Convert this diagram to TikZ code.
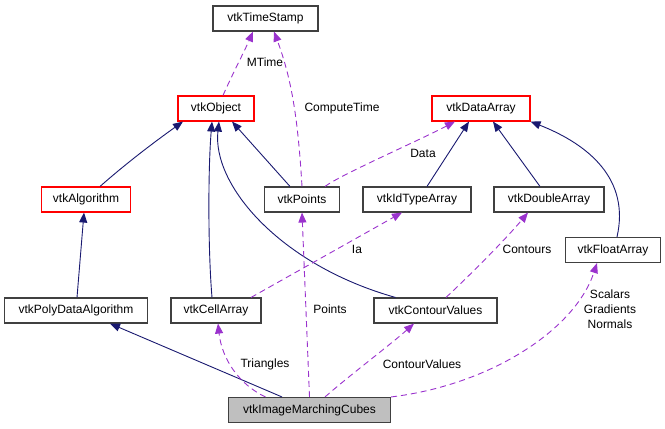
\documentclass[tikz,border=0pt]{standalone}
\usepackage{fontspec}
\setmainfont{Liberation Sans}
\usetikzlibrary{arrows.meta}
\definecolor{inhcol}{HTML}{191970}
\definecolor{usecol}{HTML}{9A32CD}
\definecolor{boxgray}{HTML}{BFBFBF}
\definecolor{boxline}{HTML}{404040}

\begin{document}
\begin{tikzpicture}[x=1pt, y=-1pt,
    every node/.style={font=\fontsize{12}{15}\selectfont, inner sep=0pt},
    cls/.style={draw=boxline, line width=1.1pt, minimum height=25pt},
    base/.style={draw=red, line width=1.1pt, minimum height=25pt},
    cur/.style={cls, fill=boxgray},
    inh/.style={draw=inhcol, line width=0.9pt, -{Triangle[length=10pt,width=8pt]}},
    use/.style={draw=usecol, line width=0.9pt, dash pattern=on 6pt off 4pt,
                -{Triangle[length=10pt,width=8pt]}},
    lbl/.style={align=center}]
    \useasboundingbox (0,0) rectangle (665,429);
    % classes
    \node[cls, minimum width=105pt] (ts) at (265.5,18.5) {vtkTimeStamp};
    \node[base, minimum width=76pt] (obj) at (216,108.5) {vtkObject};
    \node[base, minimum width=98pt] (da) at (481,108.5) {vtkDataArray};
    \node[base, minimum width=89pt] (alg) at (86,199.5) {vtkAlgorithm};
    \node[cls, minimum width=75pt] (pts) at (302,199.5) {vtkPoints};
    \node[cls, minimum width=108pt] (ida) at (417,199.5) {vtkIdTypeArray};
    \node[cls, minimum width=110pt] (dbl) at (549,199.5) {vtkDoubleArray};
    \node[cls, minimum width=95pt] (flt) at (613,250) {vtkFloatArray};
    \node[cls, minimum width=143pt] (pda) at (76,310.5) {vtkPolyDataAlgorithm};
    \node[cls, minimum width=90pt] (ca) at (216,310.5) {vtkCellArray};
    \node[cls, minimum width=123pt] (cv) at (435.5,310.5) {vtkContourValues};
    \node[cur, minimum width=162pt] (imc) at (309.5,410) {vtkImageMarchingCubes};
    % inheritance
    \draw[inh] ([xshift=14pt]alg.north) .. controls (130,160) and (160,138) .. ([xshift=-33pt]obj.south);
    \draw[inh] ([xshift=-4pt]ca.north) .. controls (208,250) and (208,170) .. ([xshift=-4pt]obj.south);
    \draw[inh] ([xshift=-40pt]cv.north) .. controls (280,265) and (212,185) .. ([xshift=3pt]obj.south);
    \draw[inh] ([xshift=-12pt]pts.north) -- ([xshift=16pt]obj.south);
    \draw[inh] ([xshift=10pt]ida.north) -- ([xshift=-12pt]da.south);
    \draw[inh] ([xshift=-9pt]dbl.north) -- ([xshift=12pt]da.south);
    \draw[inh] ([xshift=4pt]flt.north) .. controls (630,180) and (590,145) .. (da.south east);
    \draw[inh] ([xshift=-27.5pt]imc.north) -- ([xshift=34pt]pda.south);
    \draw[inh] ([xshift=1pt]pda.north) -- ([xshift=-2pt]alg.south);
    % usage
    \draw[use] ([xshift=7pt]obj.north) .. controls (232,75) and (245,50) .. ([xshift=-12.5pt]ts.south);
    \draw[use] (pts.north) .. controls (298,120) and (292,80) .. ([xshift=8.5pt]ts.south);
    \draw[use] ([xshift=23pt]pts.north) .. controls (340,175) and (420,140) .. ([xshift=-26pt]da.south);
    \draw[use] ([xshift=35pt]ca.north) -- ([xshift=-15pt]ida.south);
    \draw[use] ([xshift=-44pt]imc.north) .. controls (240,385) and (222,360) .. ([xshift=2pt]ca.south);
    \draw[use] (imc.north) -- (pts.south);
    \draw[use] ([xshift=15.5pt]imc.north) .. controls (350,375) and (390,345) .. ([xshift=-21.5pt]cv.south);
    \draw[use] ([xshift=10.5pt]cv.north) .. controls (470,275) and (505,240) .. ([xshift=-21pt]dbl.south);
    \draw[use] (imc.north east) .. controls (490,385) and (575,330) .. ([xshift=-16pt]flt.south);
    % labels
    \node[lbl] (lmt) at (265,62) {MTime};
    \node[lbl] (lct) at (342,108) {ComputeTime};
    \node[lbl] (ldat) at (423,153) {Data};
    \node[lbl] (lia) at (357,249) {Ia};
    \node[lbl] (lcon) at (527,249) {Contours};
    \node[lbl] (lpts) at (330,309) {Points};
    \node[lbl] (lsgn) at (610,309) {Scalars\\Gradients\\Normals};
    \node[lbl] (ltri) at (265,364) {Triangles};
    \node[lbl] (lcv) at (422,364) {ContourValues};
\end{tikzpicture}
\end{document}
